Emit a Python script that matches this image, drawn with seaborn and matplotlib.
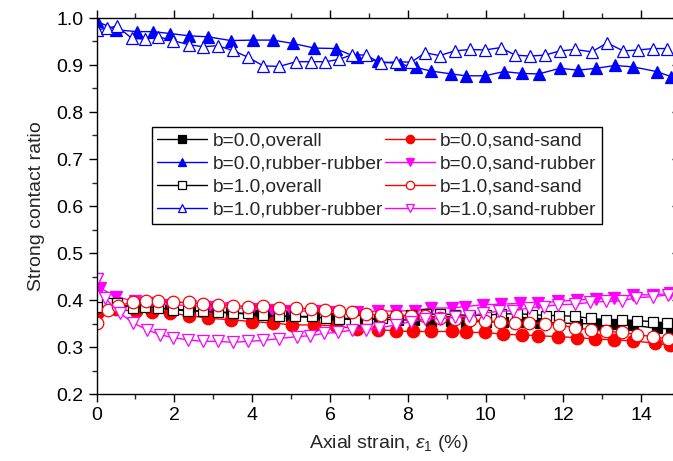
import matplotlib
matplotlib.use("Agg")
import matplotlib.pyplot as plt
from matplotlib.ticker import MultipleLocator
import seaborn as sns
import pandas as pd

# b = 0.0, overall
x_ov0 = [0, 0.5, 1.0, 1.45, 1.9, 2.4, 2.9, 3.45, 4.0, 4.5, 5.0, 5.6, 6.15, 6.7, 7.25, 7.75,
         8.15, 8.6, 9.1, 9.5, 10.0, 10.45, 10.95, 11.4, 11.9, 12.35, 12.85, 13.3, 13.8, 14.4, 14.78]
y_ov0 = [0.380, 0.388, 0.386, 0.384, 0.381, 0.378, 0.376, 0.373, 0.369, 0.367, 0.365, 0.363, 0.362,
         0.360, 0.359, 0.358, 0.357, 0.355, 0.355, 0.354, 0.354, 0.353, 0.353, 0.352, 0.351, 0.350,
         0.349, 0.350, 0.346, 0.340, 0.339]

# b = 0.0, sand-sand
x_ss0 = [0, 0.5, 1.01, 1.42, 1.89, 2.38, 2.87, 3.45, 4.0, 4.54, 5.03, 5.6, 6.15, 6.7, 7.24, 7.71,
         8.14, 8.61, 9.13, 9.51, 9.98, 10.46, 10.93, 11.35, 11.87, 12.36, 12.81, 13.31, 13.8, 14.35, 14.74]
y_ss0 = [0.372, 0.380, 0.376, 0.374, 0.372, 0.367, 0.361, 0.358, 0.354, 0.351, 0.347, 0.347, 0.345,
         0.338, 0.337, 0.334, 0.333, 0.333, 0.333, 0.331, 0.331, 0.327, 0.326, 0.324, 0.322, 0.320,
         0.317, 0.315, 0.313, 0.308, 0.304]

# b = 0.0, rubber-rubber
x_rr0 = [0, 0.5, 1.03, 1.44, 1.89, 2.38, 2.86, 3.45, 4.02, 4.53, 5.04, 5.6, 6.15, 6.69, 7.23, 7.8,
         8.2, 8.61, 9.12, 9.5, 9.98, 10.47, 10.94, 11.37, 11.91, 12.38, 12.84, 13.33, 13.8, 14.4, 14.78]
y_rr0 = [0.993, 0.975, 0.971, 0.971, 0.967, 0.962, 0.960, 0.952, 0.953, 0.953, 0.946, 0.936, 0.935,
         0.916, 0.908, 0.902, 0.895, 0.887, 0.881, 0.877, 0.877, 0.886, 0.882, 0.881, 0.893, 0.889,
         0.893, 0.899, 0.896, 0.886, 0.875]

# b = 0.0, sand-rubber
x_sr0 = [0, 0.1, 0.5, 1.0, 1.45, 1.9, 2.4, 2.9, 3.45, 4.0, 4.5, 5.0, 5.6, 6.15, 6.7, 7.24, 7.71,
         8.19, 8.61, 9.13, 9.47, 9.94, 10.41, 10.88, 11.36, 11.87, 12.35, 12.85, 13.3, 13.8, 14.31, 14.74]
y_sr0 = [0.445, 0.425, 0.407, 0.397, 0.393, 0.390, 0.388, 0.386, 0.384, 0.381, 0.379, 0.377, 0.376,
         0.375, 0.375, 0.376, 0.377, 0.377, 0.383, 0.383, 0.386, 0.390, 0.391, 0.393, 0.393, 0.397,
         0.400, 0.402, 0.405, 0.411, 0.411, 0.414]

# b = 1.0, overall
x_ov1 = [0, 0.26, 0.52, 0.94, 1.24, 1.59, 1.97, 2.36, 2.74, 3.11, 3.5, 3.9, 4.29, 4.7, 5.1, 5.53,
         5.91, 6.24, 6.64, 6.96, 7.33, 7.71, 8.08, 8.47, 8.83, 9.21, 9.6, 10.0, 10.4, 10.8, 11.2,
         11.55, 11.9, 12.3, 12.7, 13.11, 13.5, 13.9, 14.3, 14.67]
y_ov1 = [0.385, 0.393, 0.393, 0.384, 0.386, 0.383, 0.379, 0.377, 0.376, 0.374, 0.372, 0.372, 0.369,
         0.365, 0.365, 0.365, 0.361, 0.360, 0.358, 0.360, 0.361, 0.365, 0.369, 0.370, 0.370, 0.369,
         0.367, 0.368, 0.370, 0.371, 0.369, 0.367, 0.367, 0.365, 0.361, 0.358, 0.358, 0.356, 0.354, 0.351]

# b = 1.0, sand-sand
x_ss1 = [0.02, 0.3, 0.56, 0.93, 1.27, 1.59, 1.97, 2.38, 2.74, 3.11, 3.5, 3.9, 4.29, 4.69, 5.12, 5.5,
         5.87, 6.24, 6.57, 6.92, 7.32, 7.71, 8.08, 8.44, 8.82, 9.21, 9.6, 9.98, 10.37, 10.75, 11.12,
         11.53, 11.89, 12.3, 12.7, 13.11, 13.52, 13.9, 14.31, 14.7]
y_ss1 = [0.351, 0.378, 0.388, 0.395, 0.397, 0.397, 0.395, 0.395, 0.391, 0.390, 0.388, 0.386, 0.388,
         0.384, 0.384, 0.380, 0.379, 0.377, 0.374, 0.370, 0.368, 0.367, 0.367, 0.365, 0.362, 0.360,
         0.358, 0.356, 0.353, 0.351, 0.352, 0.349, 0.347, 0.341, 0.337, 0.333, 0.331, 0.326, 0.322, 0.317]

# b = 1.0, rubber-rubber
x_rr1 = [0, 0.26, 0.52, 0.9, 1.24, 1.59, 1.96, 2.38, 2.74, 3.11, 3.5, 3.88, 4.29, 4.7, 5.13, 5.5,
         5.88, 6.24, 6.57, 6.93, 7.3, 7.71, 8.09, 8.45, 8.82, 9.21, 9.6, 9.98, 10.39, 10.76, 11.14,
         11.53, 11.91, 12.3, 12.73, 13.13, 13.54, 13.93, 14.31, 14.67]
y_rr1 = [0.975, 0.978, 0.983, 0.957, 0.955, 0.960, 0.952, 0.943, 0.939, 0.941, 0.931, 0.917, 0.898,
         0.897, 0.907, 0.907, 0.907, 0.912, 0.922, 0.921, 0.904, 0.907, 0.906, 0.926, 0.920, 0.930,
         0.933, 0.932, 0.937, 0.921, 0.919, 0.921, 0.930, 0.933, 0.928, 0.947, 0.930, 0.932, 0.935, 0.935]

# b = 1.0, sand-rubber
x_sr1 = [0, 0.22, 0.6, 0.94, 1.29, 1.63, 1.97, 2.36, 2.73, 3.11, 3.5, 3.9, 4.29, 4.7, 5.14, 5.49,
         5.85, 6.21, 6.56, 6.93, 7.27, 7.71, 8.08, 8.44, 8.83, 9.21, 9.58, 9.94, 10.35, 10.71, 11.12,
         11.5, 11.87, 12.3, 12.68, 13.11, 13.5, 13.88, 14.3, 14.7]
y_sr1 = [0.445, 0.404, 0.372, 0.351, 0.337, 0.326, 0.320, 0.315, 0.312, 0.312, 0.310, 0.312, 0.314,
         0.318, 0.322, 0.324, 0.329, 0.331, 0.336, 0.336, 0.341, 0.347, 0.354, 0.360, 0.360, 0.363,
         0.365, 0.372, 0.376, 0.377, 0.383, 0.386, 0.390, 0.391, 0.395, 0.397, 0.398, 0.405, 0.407, 0.411]

x_ticks = [0, 2, 4, 6, 8, 10, 12, 14]
y_ticks = [0.2, 0.3, 0.4, 0.5, 0.6, 0.7, 0.8, 0.9, 1.0]

sns.set_theme(style="ticks")
plt.rcParams["font.family"] = ["Liberation Sans", "DejaVu Sans"]
plt.rcParams["mathtext.fontset"] = "custom"
plt.rcParams["mathtext.rm"] = "Liberation Sans"
plt.rcParams["mathtext.it"] = "Liberation Sans:italic"

fig = plt.figure(figsize=(6.73, 4.61), dpi=100)
ax = fig.add_axes([96.6 / 673, 1 - 394 / 461, (680 - 96.6) / 673, 376 / 461])

series = [
    ("b=0.0,overall", x_ov0, y_ov0, "black", "s", True, 7.5),
    ("b=0.0,sand-sand", x_ss0, y_ss0, "red", "o", True, 9.0),
    ("b=0.0,rubber-rubber", x_rr0, y_rr0, "blue", "^", True, 9.0),
    ("b=0.0,sand-rubber", x_sr0, y_sr0, "magenta", "v", True, 9.0),
    ("b=1.0,overall", x_ov1, y_ov1, "black", "s", False, 7.5),
    ("b=1.0,sand-sand", x_ss1, y_ss1, "red", "o", False, 9.0),
    ("b=1.0,rubber-rubber", x_rr1, y_rr1, "blue", "^", False, 9.0),
    ("b=1.0,sand-rubber", x_sr1, y_sr1, "magenta", "v", False, 9.0),
]

for label, xs, ys, color, mk, filled, ms in series:
    df = pd.DataFrame({"strain": xs, "ratio": ys})
    sns.lineplot(data=df, x="strain", y="ratio", ax=ax, color=color, linewidth=1.0,
                 marker=mk, markersize=ms, markeredgewidth=0.9, markeredgecolor=color,
                 markerfacecolor=color if filled else "white", label=label, sort=False)

ax.set_xlim(0, 15)
ax.set_ylim(0.2, 1.0)
ax.set_xticks(x_ticks)
ax.set_xticklabels([str(t) for t in x_ticks])
ax.set_yticks(y_ticks)
ax.set_yticklabels([f"{t:.1f}" for t in y_ticks])
ax.xaxis.set_minor_locator(MultipleLocator(1))
ax.yaxis.set_minor_locator(MultipleLocator(0.05))

for side in ["left", "right", "top", "bottom"]:
    ax.spines[side].set_visible(True)
    ax.spines[side].set_color("black")
    ax.spines[side].set_linewidth(1.0)

ax.tick_params(axis="both", which="major", direction="out", length=6, width=1.0,
               labelsize=14, colors="black", top=True, right=True)
ax.tick_params(axis="both", which="minor", direction="out", length=3.5, width=1.0,
               top=True, right=True)
ax.tick_params(axis="y", which="major", labelright=False)
ax.tick_params(axis="x", which="both", labeltop=False)
# right-hand ticks point into the plot
for t in ax.yaxis.get_major_ticks() + ax.yaxis.get_minor_ticks():
    t.tick2line.set_marker(matplotlib.lines.TICKLEFT)

ax.set_xlabel(r"Axial strain, $\mathit{\varepsilon}_{\mathit{1}}$ (%)", fontsize=14, labelpad=6)
ax.set_ylabel("Strong contact ratio", fontsize=14, labelpad=8)

handles, labels = ax.get_legend_handles_labels()
order = [0, 2, 4, 6, 1, 3, 5, 7]
leg = ax.legend([handles[i] for i in order], [labels[i] for i in order], ncol=2,
                loc="upper left", bbox_to_anchor=(0.095, 0.71), borderaxespad=0,
                fontsize=13.8, frameon=True, fancybox=False, edgecolor="black",
                framealpha=1, handlelength=2.6, handletextpad=0.3, columnspacing=0.1,
                labelspacing=0.3, borderpad=0.25)
leg.get_frame().set_linewidth(1.0)
for h in leg.legend_handles:
    h.set_markersize(6)

fig.savefig("out.png", dpi=100)
